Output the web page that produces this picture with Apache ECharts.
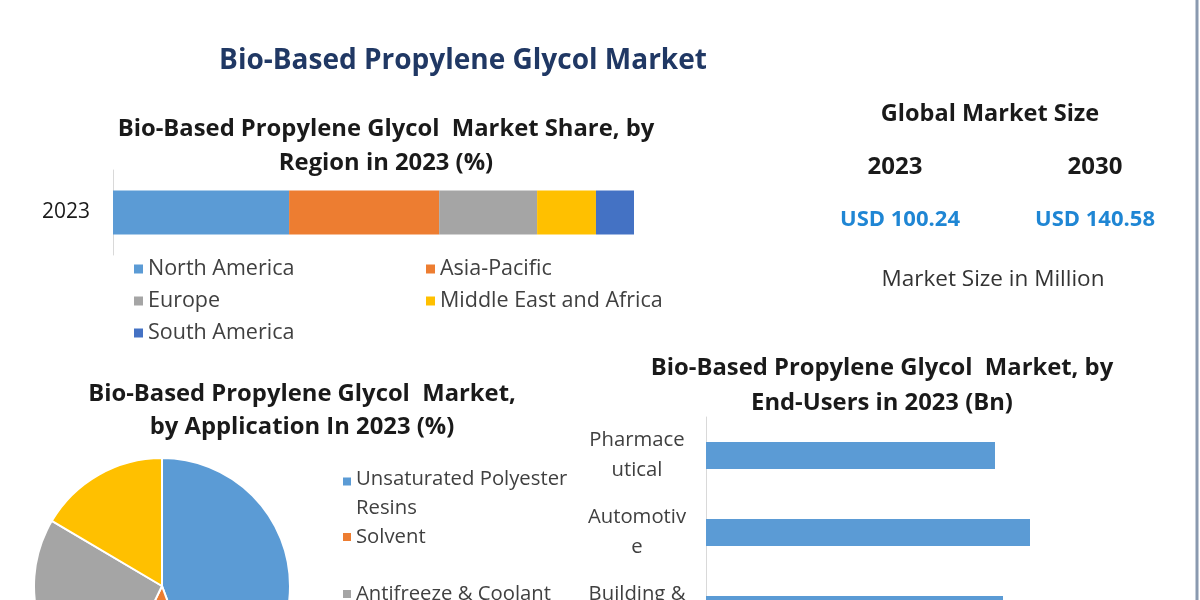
<!DOCTYPE html>
<html><head><meta charset="utf-8">
<script src="https://cdn.jsdelivr.net/npm/echarts@6/dist/echarts.min.js"></script>
<style>html,body{margin:0;padding:0;background:#fff;} #c{width:1200px;height:600px;}</style>
</head><body><div id="c"></div>
<script>
// ---- data ----
const regionYear = ['2023'];
const regions = ['North America', 'Asia-Pacific', 'Europe', 'Middle East and Africa', 'South America'];
const regionShares = [33.8, 28.8, 18.8, 11.3, 7.3];
const applications = ['Unsaturated Polyester\nResins', 'Solvent', 'Antifreeze & Coolant', 'Others'];
const applicationShares = [44.4, 12.8, 26.3, 16.5];
const endUsers = ['Pharmace\nutical', 'Automotiv\ne', 'Building &\nConstruction'];
const endUserValues = [28.9, 32.4, 29.7];
const marketYears = ['2023', '2030'];
const marketSizes = [100.24, 140.58];

// ---- styling ----
const palette = ['#5b9bd5', '#ed7d31', '#a5a5a5', '#ffc000', '#4472c4'];
const FONT = '"Open Sans"';
const chart = echarts.init(document.getElementById('c'));

function txt(x, y, text, size, weight, color, lh) {
  return { type: 'text', x: x, y: y, style: { text: text, font: weight + ' ' + size + 'px ' + FONT,
    fill: color, align: 'center', verticalAlign: 'middle', lineHeight: lh || size * 1.2 } };
}

const graphics = [
  txt(463, 61, 'Bio-Based Propylene Glycol Market', 28, 'bold', '#203864'),
  txt(386, 146, 'Bio-Based Propylene Glycol  Market Share, by\nRegion in 2023 (%)', 23.8, 'bold', '#1a1a1a', 34),
  txt(302, 411, 'Bio-Based Propylene Glycol  Market,\nby Application In 2023 (%)', 23.8, 'bold', '#1a1a1a', 33),
  txt(882, 386, 'Bio-Based Propylene Glycol  Market, by\nEnd-Users in 2023 (Bn)', 23.8, 'bold', '#1a1a1a', 35),
  txt(990, 114, 'Global Market Size', 23.5, 'bold', '#1a1a1a'),
  txt(993, 280, 'Market Size in Million', 22.5, 'normal', '#333333'),
  { type: 'line', shape: { x1: 1197, y1: 0, x2: 1197, y2: 600 }, style: { stroke: '#8a9ab0', lineWidth: 3 } }
];
const yearX = [895, 1095];
const usdX = [900, 1095];
marketYears.forEach((y, i) => {
  graphics.push(txt(yearX[i], 167, y, 24, 'bold', '#1a1a1a'));
  graphics.push(txt(usdX[i], 220, 'USD ' + marketSizes[i].toFixed(2), 22, 'bold', '#1f86d4'));
});

const legendText = { fontFamily: FONT, fontSize: 21.5, color: '#404040', lineHeight: 32 };
const pieLegendText = { fontFamily: FONT, fontSize: 20.3, color: '#404040', lineHeight: 29 };
const pieLegendTops = [474, 532, 589, 647];

const legends = [
  { data: [regions[0], regions[2], regions[4]], orient: 'vertical', left: 129, top: 248, itemGap: 0,
    itemWidth: 9, itemHeight: 9, icon: 'rect', textStyle: legendText },
  { data: [regions[1], regions[3]], orient: 'vertical', left: 421, top: 248, itemGap: 0,
    itemWidth: 9, itemHeight: 9, icon: 'rect', textStyle: legendText }
];
applications.forEach((a, i) => {
  const twoLine = a.indexOf('\n') >= 0;
  legends.push({
    data: [a], orient: 'vertical', left: 338, top: pieLegendTops[i] - 14.5, itemGap: 0,
    itemWidth: 8, itemHeight: twoLine ? 37 : 8,
    icon: twoLine ? 'path://M0,0h10v10h-10z M0,40h0.01v0.01z' : 'rect',
    itemStyle: { borderWidth: 0 }, textStyle: pieLegendText
  });
});

const series = regions.map((r, i) => ({
  type: 'bar', name: r, stack: 'region', xAxisIndex: 0, yAxisIndex: 0,
  data: [regionShares[i]], barWidth: 44, itemStyle: { color: palette[i] }
}));
series.push({
  type: 'pie', name: 'Application', center: [162, 586], radius: 128, startAngle: 90, clockwise: true,
  label: { show: false }, labelLine: { show: false },
  itemStyle: { borderColor: '#ffffff', borderWidth: 2 },
  data: applications.map((a, i) => ({ name: a, value: applicationShares[i], itemStyle: { color: palette[i] } }))
});
series.push({
  type: 'bar', name: 'End-Users', xAxisIndex: 1, yAxisIndex: 1, data: endUserValues,
  barWidth: 27, itemStyle: { color: palette[0] }
});

chart.setOption({
  backgroundColor: '#ffffff',
  animation: false,
  graphic: graphics,
  legend: legends,
  grid: [
    { left: 113, top: 170, width: 521, height: 85, outerBoundsMode: 'none' },
    { left: 706, top: 417, width: 400, height: 231, outerBoundsMode: 'none' }
  ],
  xAxis: [
    { type: 'value', gridIndex: 0, min: 0, max: 100, show: false },
    { type: 'value', gridIndex: 1, min: 0, max: 40, show: false }
  ],
  yAxis: [
    { type: 'category', gridIndex: 0, data: regionYear,
      axisLine: { show: true, lineStyle: { color: '#d9d9d9' } }, axisTick: { show: false },
      axisLabel: { fontFamily: FONT, fontSize: 21, color: '#1a1a1a', margin: 23 } },
    { type: 'category', gridIndex: 1, data: endUsers, inverse: true,
      axisLine: { show: true, lineStyle: { color: '#d9d9d9' } }, axisTick: { show: false },
      axisLabel: { fontFamily: FONT, fontSize: 20.3, color: '#404040', margin: 69, align: 'center',
        lineHeight: 30, padding: [4, 0, 0, 0] } }
  ],
  series: series
});
</script></body></html>
